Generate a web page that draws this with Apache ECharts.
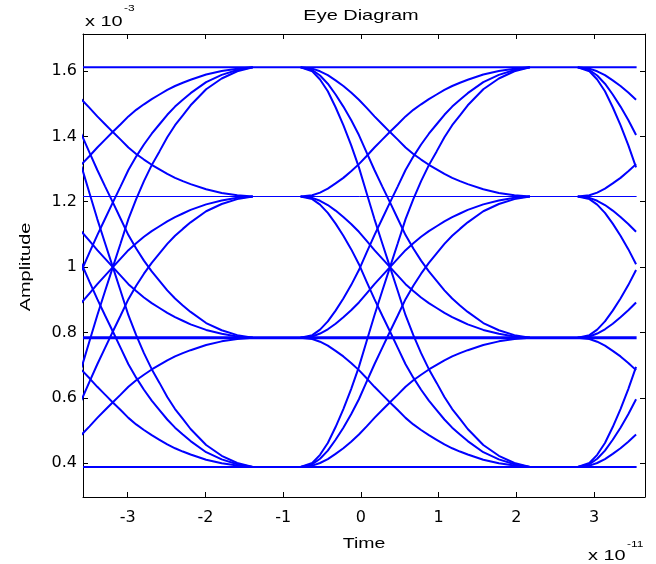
<!DOCTYPE html>
<html>
<head>
<meta charset="utf-8">
<script src="https://cdn.jsdelivr.net/npm/echarts@6/dist/echarts.min.js"></script>
<style>
  html, body { margin: 0; padding: 0; background: #ffffff; }
  #chart { width: 656px; height: 564px; }
</style>
</head>
<body>
<div id="chart"></div>
<script>
// Axis ticks: time in units of 1e-11 s, amplitude in units of 1e-3
const xTickValues = [-3, -2, -1, 0, 1, 2, 3];
const yTickValues = [0.4, 0.6, 0.8, 1, 1.2, 1.4, 1.6];

// The four signal levels, drawn as steady runs across the whole window
const levelValues = [0.389, 0.784, 1.216, 1.611];
const levelWidths = [2, 3, 1, 2];
const runTime = [-3.574, 3.547];

// Sample times of the three symbol transitions that fall inside the window
const timeSeg1 = [-4.34, -4.19, -4.09, -3.99, -3.89, -3.79, -3.69, -3.59, -3.49, -3.39, -3.29, -3.19, -3.09,
  -2.99, -2.89, -2.79, -2.69, -2.59, -2.49, -2.39, -2.29, -2.19, -1.99, -1.79, -1.59, -1.39];
const timeSeg2 = [-0.775, -0.625, -0.525, -0.425, -0.325, -0.225, -0.125, -0.025, 0.075, 0.175, 0.275, 0.375, 0.475,
  0.575, 0.675, 0.775, 0.875, 0.975, 1.075, 1.175, 1.275, 1.375, 1.575, 1.775, 1.975, 2.175];
const timeSeg3 = [2.79, 2.94, 3.04, 3.14, 3.24, 3.34, 3.44, 3.54];

// Amplitude along each level-to-level transition
const rise01 = [0.389, 0.393, 0.401, 0.413, 0.429, 0.446, 0.466, 0.488, 0.513, 0.539, 0.563, 0.587, 0.610,
  0.634, 0.654, 0.671, 0.687, 0.701, 0.715, 0.727, 0.737, 0.746, 0.762, 0.773, 0.780, 0.784];
const fall10 = [0.784, 0.780, 0.772, 0.760, 0.744, 0.727, 0.707, 0.685, 0.660, 0.634, 0.610, 0.586, 0.563,
  0.539, 0.519, 0.502, 0.486, 0.472, 0.458, 0.446, 0.436, 0.427, 0.411, 0.400, 0.393, 0.389];
const rise23 = [1.216, 1.220, 1.228, 1.240, 1.256, 1.273, 1.293, 1.315, 1.340, 1.366, 1.390, 1.414, 1.437,
  1.461, 1.481, 1.498, 1.514, 1.528, 1.542, 1.554, 1.564, 1.573, 1.589, 1.600, 1.607, 1.611];
const fall32 = [1.611, 1.607, 1.599, 1.587, 1.571, 1.554, 1.534, 1.512, 1.487, 1.461, 1.437, 1.413, 1.390,
  1.366, 1.346, 1.329, 1.313, 1.299, 1.285, 1.273, 1.263, 1.254, 1.238, 1.227, 1.220, 1.216];
const rise12 = [0.784, 0.788, 0.797, 0.810, 0.827, 0.847, 0.868, 0.892, 0.920, 0.948, 0.974, 1.000, 1.026,
  1.052, 1.073, 1.093, 1.110, 1.125, 1.140, 1.153, 1.164, 1.175, 1.192, 1.204, 1.212, 1.216];
const fall21 = [1.216, 1.212, 1.203, 1.190, 1.173, 1.153, 1.132, 1.108, 1.080, 1.052, 1.026, 1.000, 0.974,
  0.948, 0.927, 0.907, 0.890, 0.875, 0.860, 0.847, 0.836, 0.825, 0.808, 0.796, 0.788, 0.784];
const rise02 = [0.389, 0.397, 0.414, 0.439, 0.472, 0.509, 0.550, 0.596, 0.650, 0.703, 0.753, 0.803, 0.852,
  0.902, 0.943, 0.980, 1.013, 1.042, 1.071, 1.096, 1.117, 1.137, 1.171, 1.193, 1.208, 1.216];
const fall20 = [1.216, 1.208, 1.191, 1.166, 1.133, 1.096, 1.055, 1.009, 0.955, 0.902, 0.852, 0.803, 0.753,
  0.703, 0.662, 0.625, 0.592, 0.563, 0.534, 0.509, 0.488, 0.468, 0.434, 0.412, 0.397, 0.389];
const rise13 = [0.784, 0.792, 0.809, 0.834, 0.867, 0.904, 0.945, 0.991, 1.045, 1.098, 1.148, 1.198, 1.247,
  1.297, 1.338, 1.375, 1.408, 1.437, 1.466, 1.491, 1.512, 1.532, 1.566, 1.588, 1.603, 1.611];
const fall31 = [1.611, 1.603, 1.586, 1.561, 1.528, 1.491, 1.450, 1.404, 1.350, 1.297, 1.247, 1.198, 1.148,
  1.098, 1.057, 1.020, 0.987, 0.958, 0.929, 0.904, 0.883, 0.863, 0.829, 0.807, 0.792, 0.784];
const rise03 = [0.389, 0.401, 0.426, 0.462, 0.511, 0.566, 0.627, 0.695, 0.774, 0.853, 0.927, 1.000, 1.073,
  1.147, 1.208, 1.263, 1.312, 1.354, 1.397, 1.434, 1.464, 1.495, 1.544, 1.577, 1.599, 1.611];
const fall30 = [1.611, 1.599, 1.574, 1.538, 1.489, 1.434, 1.373, 1.305, 1.226, 1.147, 1.073, 1.000, 0.927,
  0.853, 0.792, 0.737, 0.688, 0.646, 0.603, 0.566, 0.536, 0.505, 0.456, 0.423, 0.401, 0.389];

const transitions = [rise01, fall10, rise23, fall32, rise12, fall21, rise02, fall20, rise13, fall31, rise03, fall30];
const segments = [timeSeg1, timeSeg2, timeSeg3];

const traceColor = '#0000ff';
const series = [];

function lineSeries(data, width) {
  return {
    type: 'line',
    data: data,
    symbol: 'none',
    showSymbol: false,
    silent: true,
    animation: false,
    clip: true,
    lineStyle: { color: traceColor, width: width },
    itemStyle: { color: traceColor },
    emphasis: { disabled: true }
  };
}

// steady runs at each level
levelValues.forEach((v, i) => {
  series.push(lineSeries(runTime.map(t => [t, v]), levelWidths[i]));
});

// every transition, once per symbol boundary
transitions.forEach(vals => {
  segments.forEach(times => {
    series.push(lineSeries(times.map((t, k) => [t, vals[k]]), 2));
  });
});

const xMin = -3.574, xMax = 3.655;
const yMin = 0.297, yMax = 1.713;

const frameLine = { show: true, onZero: false, lineStyle: { color: '#000000', width: 1 } };
const textFont = '"Liberation Sans", Arial, sans-serif';

const option = {
  backgroundColor: '#ffffff',
  animation: false,
  grid: { left: 83, right: 11, top: 34, bottom: 67, containLabel: false, outerBoundsMode: 'none' },
  xAxis: [
    {
      type: 'value', position: 'bottom', min: xMin, max: xMax,
      axisLine: frameLine,
      axisTick: { show: true, inside: true, length: 5, customValues: xTickValues, lineStyle: { color: '#000000' } },
      axisLabel: { show: true, customValues: xTickValues, color: '#000000', fontFamily: 'DejaVu Sans', fontSize: 16, margin: 13,
        formatter: v => String(v) },
      splitLine: { show: false }
    },
    {
      type: 'value', position: 'top', min: xMin, max: xMax,
      axisLine: frameLine,
      axisTick: { show: true, inside: true, length: 5, customValues: xTickValues, lineStyle: { color: '#000000' } },
      axisLabel: { show: false },
      splitLine: { show: false }
    }
  ],
  yAxis: [
    {
      type: 'value', position: 'left', min: yMin, max: yMax,
      axisLine: frameLine,
      axisTick: { show: true, inside: true, length: 5, customValues: yTickValues, lineStyle: { color: '#000000' } },
      axisLabel: { show: true, customValues: yTickValues, color: '#000000', fontFamily: 'DejaVu Sans', fontSize: 16, margin: 6,
        formatter: v => String(v) },
      splitLine: { show: false }
    },
    {
      type: 'value', position: 'right', min: yMin, max: yMax,
      axisLine: frameLine,
      axisTick: { show: true, inside: true, length: 5, customValues: yTickValues, lineStyle: { color: '#000000' } },
      axisLabel: { show: false },
      splitLine: { show: false }
    }
  ],
  series: series,
  graphic: [
    { type: 'text', x: 361, y: 16, scaleX: 1.33, silent: true,
      style: { text: 'Eye Diagram', font: '15px ' + textFont, fill: '#000000', align: 'center', verticalAlign: 'middle' } },
    { type: 'text', x: 85, y: 22, scaleX: 1.33, silent: true,
      style: { text: 'x 10', font: '15px ' + textFont, fill: '#000000', align: 'left', verticalAlign: 'middle' } },
    { type: 'text', x: 124, y: 9, scaleX: 1.33, silent: true,
      style: { text: '-3', font: '9px ' + textFont, fill: '#000000', align: 'left', verticalAlign: 'middle' } },
    { type: 'text', x: 364, y: 544, scaleX: 1.3, silent: true,
      style: { text: 'Time', font: '15px ' + textFont, fill: '#000000', align: 'center', verticalAlign: 'middle' } },
    { type: 'text', x: 26, y: 267, rotation: Math.PI / 2, scaleX: 1.33, silent: true,
      style: { text: 'Amplitude', font: '15px ' + textFont, fill: '#000000', align: 'center', verticalAlign: 'middle' } },
    { type: 'text', x: 588, y: 556, scaleX: 1.33, silent: true,
      style: { text: 'x 10', font: '15px ' + textFont, fill: '#000000', align: 'left', verticalAlign: 'middle' } },
    { type: 'text', x: 627, y: 545, scaleX: 1.33, silent: true,
      style: { text: '-11', font: '9px ' + textFont, fill: '#000000', align: 'left', verticalAlign: 'middle' } }
  ]
};

const chart = echarts.init(document.getElementById('chart'), null, { renderer: 'canvas' });
chart.setOption(option);
</script>
</body>
</html>
